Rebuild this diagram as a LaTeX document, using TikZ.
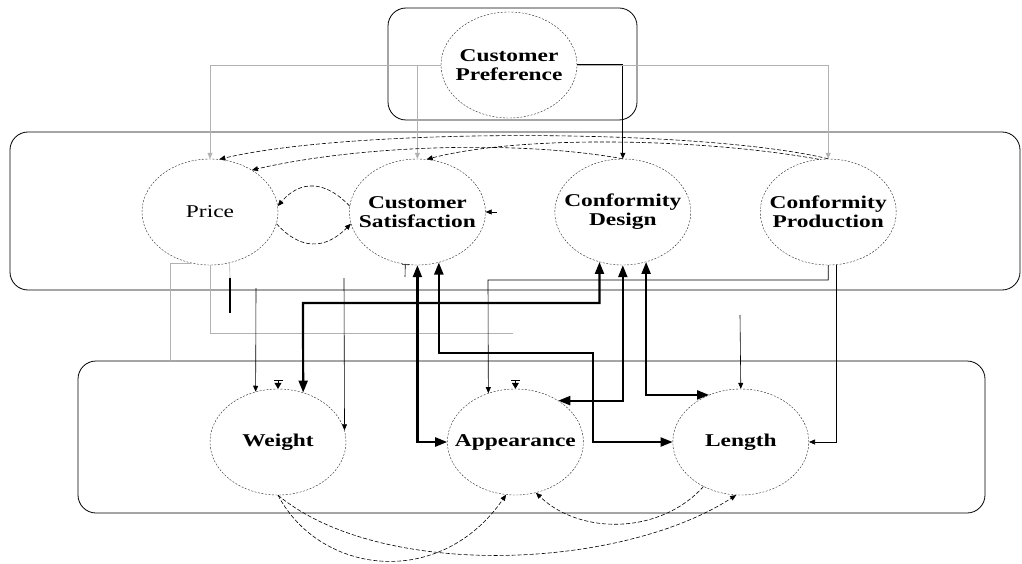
\documentclass[tikz,border=0pt]{standalone}
\usepackage{fontspec}
\setmainfont{Liberation Serif}[FakeStretch=1.3]
\usetikzlibrary{positioning,shapes.geometric,arrows.meta}

\begin{document}
\begin{tikzpicture}[x=1pt,y=-1pt,
  var/.style={ellipse, draw=black!85, dash pattern=on 2pt off 1.5pt, minimum width=136pt, minimum height=106pt, inner xsep=-20pt, inner ysep=0pt, align=center, font=\fontsize{18}{19}\selectfont\bfseries},
  grp/.style={draw, line width=0.8pt, rounded corners=18pt},
  link/.style={line width=0.6pt, -{Triangle[length=6pt,width=5pt]}},
  faint/.style={link, draw=gray!60},
  heavy/.style={line width=2.2pt, {Triangle[length=12pt,width=9pt]}-{Triangle[length=12pt,width=9pt]}},
  dashlink/.style={link, dash pattern=on 4pt off 2pt},
  tick/.style={line width=0.6pt, {Bar[width=9pt]}-{Triangle[length=6pt,width=7pt]}}
]
\useasboundingbox (0,0) rectangle (1022,564);

% groups
\draw[grp] (388,8) rectangle (637,120);
\draw[grp] (10,132) rectangle (1020,290);
\draw[grp] (78,361) rectangle (985,513);

\node[var] (pref) at (509,65) {Customer\\Preference};
\node[var, font=\fontsize{18}{19}\selectfont] (price) at (210,212) {Price};
\node[var, right=71pt of price] (sat) {Customer\\Satisfaction};
\node[var, right=69pt of sat] (des) {Conformity\\Design};
\node[var, right=69pt of des] (prod) {Conformity\\Production};
\node[var] (weight) at (278,442) {Weight};
\node[var, right=101pt of weight] (look) {Appearance};
\node[var, right=89pt of look] (len) {Length};

\coordinate (p1) at (170,361);
\coordinate (p2) at (513,333);
\coordinate (p3) at (230,278);
\coordinate (p4) at (230,313);
\coordinate (w1) at (256,288);
\coordinate (w2) at (344,278);
\coordinate (j1) at (303,303);
\coordinate (j2) at (593,353);
\coordinate (j3) at (488,280);
\coordinate (l1) at (740,315);
\coordinate (s1) at (405,277);
\coordinate (s2) at (497,212);

% preference
\draw[faint] (pref.west) -| (price.north);
\draw[faint] (pref.west -| sat.north) -- (sat.north);
\draw[link, line width=1pt] (pref.east) -| (des.north);
\draw[faint] (pref.east) -| (prod.north);

% feedback in the middle group
\draw[dashlink] (prod.north) .. controls (700,128) and (350,128) .. (price.80);
\draw[dashlink] (des.north) .. controls (520,140) and (360,145) .. (price.45);
\draw[dashlink] (prod.100) .. controls (700,138) and (520,135) .. (sat.80);
\draw[dashlink] (sat.175) .. controls (325,180) and (300,180) .. (price.5);
\draw[dashlink] (price.-10) .. controls (300,250) and (325,250) .. (sat.190);
\draw[link] (s2) -- (sat.east);

% down to the product
\draw[faint, -] (price.250) -| (p1);
\draw[faint, -] (price.south) |- (p2);
\draw[faint, -] (price.291) -- (p3);
\draw[line width=1.6pt] (p3) -- (p4);
\draw[link] (w1) -- (weight.114);
\draw[tick] ([yshift=9pt]weight.north) -- (weight.north);
\draw[heavy] (des.245) |- (j1) -- (weight.63);
\draw[link] (w2) -- (weight.10);
\draw[line width=0.6pt, {Bar[width=7pt]}-] (sat.257) -- (s1);
\draw[heavy] (sat.south) |- (look.west);
\draw[heavy] (sat.293) |- (j2) |- (len.west);
\draw[link] (prod.south) |- (j3) -- (look.119);
\draw[link] (prod.279) |- (len.east);
\draw[heavy] (des.south) |- (look.44);
\draw[heavy] (des.295) |- (len.124);
\draw[link] (l1) -- (len.north);
\draw[tick] ([yshift=9pt]look.north) -- (look.north);

% inside the product group
\draw[dashlink] (weight.south) .. controls (320,575) and (440,590) .. (look.260);
\draw[dashlink] (weight.south) .. controls (380,580) and (620,570) .. (len.265);
\draw[dashlink] (len.230) .. controls (660,535) and (580,535) .. (look.292);
\end{tikzpicture}
\end{document}
